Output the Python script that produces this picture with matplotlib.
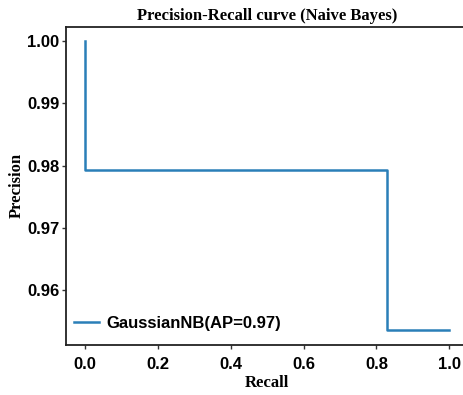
import matplotlib
matplotlib.use('Agg')
import numpy as np
from matplotlib import pyplot as plt

# PR curve (sklearn style, recall decreasing)
recall = [1.0, 0.83, 0.0, 0.0]
precision = [0.9535, 0.9793, 0.9793, 1.0]
curve_label = 'GaussianNB(AP=0.97)'
x_ticks = [0.0, 0.2, 0.4, 0.6, 0.8, 1.0]
y_ticks = [0.96, 0.97, 0.98, 0.99, 1.00]

LINE_COLOR = '#2a7fb8'

fig = plt.figure(figsize=(4.64, 3.95), dpi=100)
# right edge sits just past the image, so the right spine is cut off
ax = fig.add_axes([0.143, 0.127, 0.865, 0.805])

ax.plot(recall, precision, drawstyle='steps-post', color=LINE_COLOR,
        linewidth=1.8, label=curve_label)

ax.set_xticks(x_ticks)
ax.set_yticks(y_ticks)
ax.set_xticklabels([f'{v:.1f}' for v in x_ticks], fontfamily='Liberation Sans',
                   fontweight='bold', fontsize=12)
ax.set_yticklabels([f'{v:.2f}' for v in y_ticks], fontfamily='Liberation Sans',
                   fontweight='bold', fontsize=12)
ax.tick_params(axis='both', length=3, width=1, color='#333333', pad=2)
ax.tick_params(axis='x', pad=6)

for side in ['left', 'bottom', 'top']:
    ax.spines[side].set_linewidth(1.3)
    ax.spines[side].set_color('#222222')
ax.spines['right'].set_visible(False)

ax.set_title('Precision-Recall curve (Naive Bayes)', fontfamily='Liberation Serif',
             fontweight='bold', fontsize=12, pad=5)
ax.set_xlabel('Recall', fontfamily='Liberation Serif', fontweight='bold',
              fontsize=12, labelpad=2)
ax.set_ylabel('Precision', fontfamily='Liberation Serif', fontweight='bold',
              fontsize=12, labelpad=2)

ax.legend(loc='lower left', frameon=False, bbox_to_anchor=(-0.005, 0.012),
          prop={'family': 'Liberation Sans', 'weight': 'bold', 'size': 12},
          handlelength=1.45, handletextpad=0.45, borderaxespad=0.2)

fig.savefig('out.png', dpi=100)
